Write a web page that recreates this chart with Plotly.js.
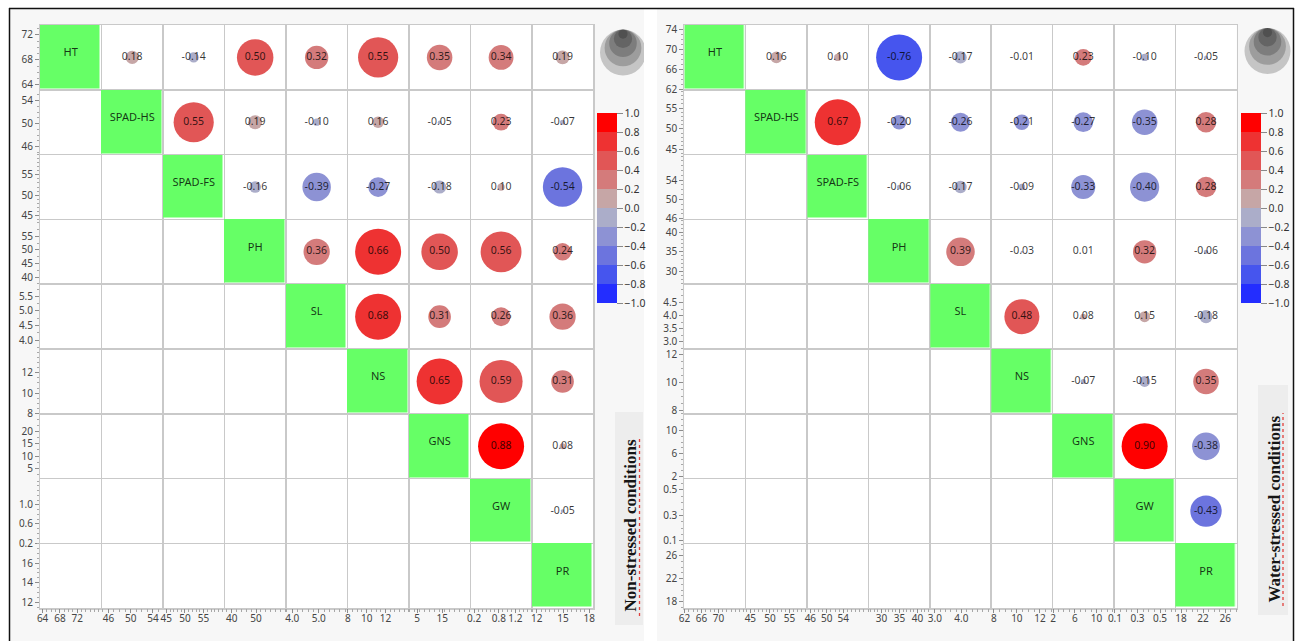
<!DOCTYPE html>
<html>
<head>
<meta charset="utf-8">
<script src="https://cdn.plot.ly/plotly-3.0.1.min.js"></script>
<style>
  html, body { margin: 0; padding: 0; background: #ffffff; }
  #chart { width: 1296px; height: 641px; }
</style>
</head>
<body>
<div id="chart"></div>
<script>
// Trait names, shared by both correlation matrices
const traits = ['HT', 'SPAD-HS', 'SPAD-FS', 'PH', 'SL', 'NS', 'GNS', 'GW', 'PR'];

// Upper-triangle Pearson r: row i holds r(i, j) for j = i+1 .. 8
const nonStressedR = [
  [0.18, -0.14, 0.50, 0.32, 0.55, 0.35, 0.34, 0.19],
  [0.55, 0.19, -0.10, 0.16, -0.05, 0.23, -0.07],
  [-0.16, -0.39, -0.27, -0.18, 0.10, -0.54],
  [0.36, 0.66, 0.50, 0.56, 0.24],
  [0.68, 0.31, 0.26, 0.36],
  [0.65, 0.59, 0.31],
  [0.88, 0.08],
  [-0.05]
];
const waterStressedR = [
  [0.16, 0.10, -0.76, -0.17, -0.01, 0.23, -0.10, -0.05],
  [0.67, -0.20, -0.26, -0.21, -0.27, -0.35, 0.28],
  [-0.06, -0.17, -0.09, -0.33, -0.40, 0.28],
  [0.39, -0.03, 0.01, 0.32, -0.06],
  [0.48, 0.08, 0.15, -0.18],
  [-0.07, -0.15, 0.35],
  [0.90, -0.38],
  [-0.43]
];

// Per-trait scale ranges (row = y scale, column = x scale)
const nsRowRange = [[63.2, 73.6], [44.6, 55.9], [44, 60], [37.4, 61.2], [3.69, 5.92], [7.95, 14.35], [0.7, 27.3], [0.19, 1.55], [11.4, 18.0]];
const nsColRange = [[63.4, 77.6], [44.75, 55.8], [44.1, 60.6], [37, 62.3], [3.76, 6.08], [7.95, 14.5], [1.7, 26.2], [0.11, 1.6], [11.43, 18.46]];
const wsRowRange = [[61.9, 74.9], [43.8, 59.4], [45.85, 59.3], [26.7, 43.2], [2.73, 5.19], [7.76, 12.39], [1.53, 13.0], [0.079, 0.589], [16.85, 28.1]];
const wsColRange = [[61.95, 76.4], [43.8, 59.5], [45.2, 60.1], [26.4, 43.4], [2.81, 5.12], [7.77, 13.1], [1.9, 13.2], [0.091, 0.636], [16.96, 28.1]];

// Tick labels
const nsRowTicks = [['64', '68', '72'], ['46', '50', '54'], ['45', '50', '55'], ['40', '45', '50', '55'], ['4.0', '4.5', '5.0', '5.5'], ['8', '10', '12'], ['5', '10', '15', '20'], ['0.2', '0.6', '1.0'], ['12', '14', '16']];
const nsColTicks = [['64', '68', '72'], ['46', '50', '54'], ['45', '50', '55'], ['40', '50'], ['4.0', '5.0'], ['8', '10', '12'], ['5', '15'], ['0.2', '0.8', '1.2'], ['12', '15', '18']];
const wsRowTicks = [['62', '66', '70', '74'], ['45', '50', '55'], ['46', '50', '54'], ['30', '35', '40'], ['3.0', '3.5', '4.0', '4.5'], ['8', '10', '12'], ['2', '6', '10'], ['0.1', '0.3', '0.5'], ['18', '22', '26']];
const wsColTicks = [['62', '66', '70'], ['45', '50', '55'], ['46', '50', '54'], ['30', '35', '40'], ['3.0', '4.0'], ['8', '10', '12'], ['2', '6', '10'], ['0.1', '0.3', '0.5'], ['18', '22', '26']];

// Minor tick steps
const nsRowMinor = [1, 1, 1, 2.5, 0.25, 0.5, 2.5, 0.1, 0.5];
const nsColMinor = [1, 1, 1, 2, 0.2, 0.5, 2, 0.1, 0.5];
const wsRowMinor = [1, 1, 1, 1, 0.25, 0.5, 1, 0.05, 1];
const wsColMinor = [1, 1, 1, 1, 0.2, 0.5, 1, 0.05, 1];

// Colour bins for r from -1 to 1 in steps of 0.2
const binColors = ['#232dff', '#4655ee', '#6c74de', '#8d92d4', '#abadc9', '#c6a6a6', '#d47b7b', '#e15656', '#ee3232', '#ff0000'];
const sizeLegendLevels = [1.0, 0.8, 0.6, 0.4, 0.2];

const sideLabels = ['Non-stressed conditions', 'Water-stressed conditions'];

// ---------- page geometry ----------
const W = 1296, H = 641;
const GY0 = 25, GY1 = 608.3;
const PX_PER_R = 73, MAX_D = 46;
const panels = [
  { r: nonStressedR, rowRange: nsRowRange, colRange: nsColRange, rowTicks: nsRowTicks, colTicks: nsColTicks,
    rowMinor: nsRowMinor, colMinor: nsColMinor,
    gx0: 40, gx1: 593.3, bg: [10, 644], cbX: 596.7, legCx: 623, legTop: 29.5,
    tag: [615, 643, 412, 625], tagX: 629.5, tagY: 526, wave: [639.5, 436, 616] },
  { r: waterStressedR, rowRange: wsRowRange, colRange: wsColRange, rowTicks: wsRowTicks, colTicks: wsColTicks,
    rowMinor: wsRowMinor, colMinor: wsColMinor,
    gx0: 684.3, gx1: 1236.7, bg: [657, 1293], cbX: 1241, legCx: 1267.5, legTop: 28,
    tag: [1258, 1288, 385, 615], tagX: 1273.5, tagY: 509, wave: [1283, 413, 606] }
];

const px = v => v / W;
const py = v => 1 - v / H;
const mid = a => (a[0] + a[1]) / 2;

const stepScale = [];
binColors.forEach((c, i) => { stepScale.push([i / 10, c]); stepScale.push([(i + 1) / 10, c]); });

const tickFont = { family: 'Noto Sans, sans-serif', size: 10, color: '#454545' };

const layout = {
  width: W, height: H,
  margin: { l: 0, r: 0, t: 0, b: 0 },
  paper_bgcolor: '#ffffff',
  plot_bgcolor: 'rgba(0,0,0,0)',
  showlegend: false,
  font: { family: 'Noto Sans, sans-serif', color: '#333' },
  shapes: [],
  annotations: []
};
const data = [];

panels.forEach((p, pi) => {
  const xo = pi === 0 ? 'x' : 'x2';
  const yo = pi === 0 ? 'y' : 'y2';
  const cw = (p.gx1 - p.gx0) / 9;
  const rh = (GY1 - GY0) / 9;
  const base = 3 + pi * 9;

  // backgrounds
  layout.shapes.push({ type: 'rect', xref: 'paper', yref: 'paper', layer: 'below',
    x0: px(p.bg[0]), x1: px(p.bg[1]), y0: py(H), y1: py(9), fillcolor: '#f7f7f7', line: { width: 0 } });
  layout.shapes.push({ type: 'rect', xref: 'paper', yref: 'paper', layer: 'below',
    x0: px(p.gx0), x1: px(p.gx1), y0: py(GY1), y1: py(GY0), fillcolor: '#ffffff', line: { width: 0 } });
  layout.shapes.push({ type: 'rect', xref: 'paper', yref: 'paper', layer: 'below',
    x0: px(p.tag[0]), x1: px(p.tag[1]), y0: py(p.tag[3]), y1: py(p.tag[2]), fillcolor: '#ededed', line: { width: 0 } });

  // circle-size key: nested translucent discs sharing the top edge
  sizeLegendLevels.forEach(lv => {
    const d = MAX_D * lv;
    layout.shapes.push({ type: 'circle', xref: 'paper', yref: 'paper', layer: 'below',
      x0: px(p.legCx - d / 2), x1: px(p.legCx + d / 2), y0: py(p.legTop + d), y1: py(p.legTop),
      fillcolor: 'rgba(0,0,0,0.2)', line: { width: 0 } });
  });

  // grid of cells
  const gridAxis = { range: [0, 9], tickmode: 'linear', tick0: 0, dtick: 1, showticklabels: false, ticks: '',
    showgrid: true, gridcolor: '#c9c9c9', gridwidth: 1.5, zeroline: false,
    showline: true, mirror: true, linecolor: '#c9c9c9', linewidth: 1.5, fixedrange: true };
  layout[pi === 0 ? 'xaxis' : 'xaxis2'] = Object.assign({}, gridAxis, { domain: [px(p.gx0), px(p.gx1)], anchor: yo });
  layout[pi === 0 ? 'yaxis' : 'yaxis2'] = Object.assign({}, gridAxis, { domain: [py(GY1), py(GY0)], range: [9, 0], anchor: xo });

  // per-trait scales along the bottom and left edges
  for (let k = 0; k < 9; k++) {
    const id = base + k;
    layout['xaxis' + id] = {
      domain: [px(p.gx0 + k * cw), px(p.gx0 + (k + 1) * cw)], range: p.colRange[k],
      anchor: 'y' + (base + 8), side: 'bottom',
      tickmode: 'array', tickvals: p.colTicks[k].map(Number), ticktext: p.colTicks[k], tickangle: 0,
      ticks: 'outside', ticklen: 4, tickwidth: 1, tickcolor: '#8c8c8c', tickfont: tickFont, ticklabelstandoff: -3,
      minor: { tickmode: 'linear', tick0: 0, dtick: p.colMinor[k], ticks: 'outside', ticklen: 2.5, tickwidth: 1, tickcolor: '#a8a8a8' },
      showgrid: false, zeroline: false, showline: false, fixedrange: true
    };
    layout['yaxis' + id] = {
      domain: [py(GY0 + (k + 1) * rh), py(GY0 + k * rh)], range: p.rowRange[k],
      anchor: 'x' + base, side: 'left',
      tickmode: 'array', tickvals: p.rowTicks[k].map(Number), ticktext: p.rowTicks[k], tickangle: 0,
      ticks: 'outside', ticklen: 4, tickwidth: 1, tickcolor: '#8c8c8c', tickfont: tickFont,
      minor: { tickmode: 'linear', tick0: 0, dtick: p.rowMinor[k], ticks: 'outside', ticklen: 2.5, tickwidth: 1, tickcolor: '#a8a8a8' },
      showgrid: false, zeroline: false, showline: false, fixedrange: true
    };
    // hidden anchor points so each scale has a subplot to live on
    data.push({ type: 'scatter', mode: 'markers', x: [mid(p.colRange[k])], y: [mid(p.rowRange[8])],
      xaxis: 'x' + id, yaxis: 'y' + (base + 8), marker: { opacity: 0, size: 1 }, hoverinfo: 'skip' });
    data.push({ type: 'scatter', mode: 'markers', x: [mid(p.colRange[0])], y: [mid(p.rowRange[k])],
      xaxis: 'x' + base, yaxis: 'y' + id, marker: { opacity: 0, size: 1 }, hoverinfo: 'skip' });
  }

  // green diagonal cells
  const centers = traits.map((_, i) => i + 0.5);
  data.push({ type: 'heatmap', x: centers, y: centers,
    z: traits.map((_, i) => traits.map((_, j) => (i === j ? 1 : null))),
    colorscale: [[0, '#66ff66'], [1, '#66ff66']], showscale: false, xgap: 1.5, ygap: 1.5,
    xaxis: xo, yaxis: yo, hoverinfo: 'skip' });

  // trait names on the diagonal
  data.push({ type: 'scatter', mode: 'text', x: centers, y: centers.map(c => c - 4 / rh), text: traits,
    textposition: 'middle center', textfont: { family: 'Noto Sans, sans-serif', size: 11, color: 'rgba(0,0,0,0.8)' },
    xaxis: xo, yaxis: yo, hoverinfo: 'skip', cliponaxis: false });

  // correlation discs
  const cx = [], cy = [], cr = [];
  p.r.forEach((row, i) => row.forEach((v, m) => { cx.push(i + 1 + m + 0.5); cy.push(i + 0.5); cr.push(v); }));
  data.push({ type: 'scatter', mode: 'markers+text', x: cx, y: cy,
    text: cr.map(v => v.toFixed(2)), textposition: 'middle center',
    textfont: { family: 'Noto Sans, sans-serif', size: 10.5, color: 'rgba(0,0,0,0.78)' },
    marker: { size: cr.map(v => Math.min(PX_PER_R * Math.abs(v), MAX_D)), color: cr, cmin: -1, cmax: 1,
      colorscale: stepScale, line: { width: 0 }, opacity: 1, showscale: true,
      colorbar: { x: px(p.cbX), xanchor: 'left', xref: 'paper', y: py(113), yanchor: 'top', yref: 'paper',
        len: 190, lenmode: 'pixels', thickness: 19.5, thicknessmode: 'pixels', xpad: 0, ypad: 0,
        outlinewidth: 0, bgcolor: 'rgba(0,0,0,0)',
        tickmode: 'linear', tick0: -1, dtick: 0.2, tickformat: '.1f',
        ticks: 'outside', ticklen: 6, tickwidth: 1, tickcolor: '#888',
        tickfont: { family: 'Noto Sans, sans-serif', size: 10.5, color: '#333' } } },
    xaxis: xo, yaxis: yo, hoverinfo: 'skip', cliponaxis: false });

  // condition label on the right
  layout.annotations.push({ xref: 'paper', yref: 'paper', x: px(p.tagX), y: py(p.tagY),
    xanchor: 'center', yanchor: 'middle', showarrow: false, textangle: -90,
    text: '<b>' + sideLabels[pi] + '</b>',
    font: { family: 'Liberation Serif, serif', size: 17, color: '#151515' } });
  layout.shapes.push({ type: 'line', xref: 'paper', yref: 'paper', layer: 'above',
    x0: px(p.wave[0]), x1: px(p.wave[0]), y0: py(p.wave[2]), y1: py(p.wave[1]),
    line: { color: '#e0403c', width: 1.3, dash: 'dot' } });
});

// white gutter between the two panels
layout.shapes.push({ type: 'rect', xref: 'paper', yref: 'paper', layer: 'below',
  x0: px(644), x1: px(657), y0: 0, y1: py(9), fillcolor: '#ffffff', line: { width: 0 } });

// outer frame
[[9, 8.5, 1294, 8.5], [9.5, 8, 9.5, H], [1293.5, 8, 1293.5, H]].forEach(s => {
  layout.shapes.push({ type: 'line', xref: 'paper', yref: 'paper', layer: 'above',
    x0: px(s[0]), y0: py(s[1]), x1: px(s[2]), y1: py(s[3]), line: { color: '#111', width: 1.5 } });
});

Plotly.newPlot('chart', data, layout, { staticPlot: true, displayModeBar: false });
</script>
</body>
</html>
